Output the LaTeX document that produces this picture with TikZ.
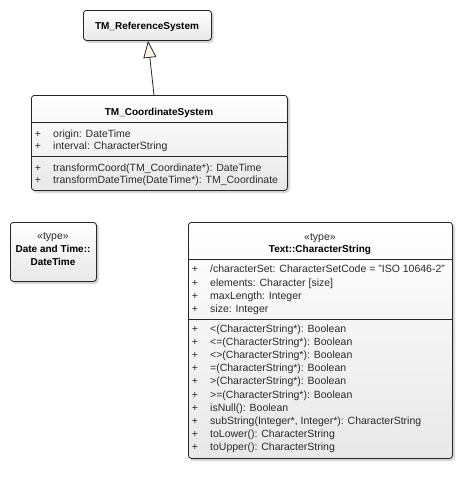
\documentclass[tikz,border=0pt]{standalone}
\usepackage{fontspec}
\setmainfont{Liberation Sans}
\usetikzlibrary{arrows.meta,calc,shadows.blur}

\definecolor{edge}{HTML}{262626}
\definecolor{txt}{HTML}{2A2A2A}
\definecolor{tipfill}{HTML}{FBF3E6}

\tikzset{
  classbox/.style={draw=edge, line width=0.8pt, rounded corners=3pt,
    top color=white, bottom color=black!9, anchor=north west, inner sep=0pt,
    blur shadow={shadow xshift=1.6pt, shadow yshift=-1.6pt,
      shadow blur radius=1.8pt, shadow blur steps=6, shadow opacity=28}},
  divider/.style={draw=edge, line width=0.8pt},
  member/.style={anchor=base west, inner sep=0pt, text=txt,
    font=\fontsize{10.5}{12}\selectfont},
  vis/.style={anchor=base, inner sep=0pt, text=txt,
    font=\fontsize{10.5}{12}\selectfont},
  title/.style={anchor=base, inner sep=0pt, text=black,
    font=\fontsize{10}{12}\selectfont\bfseries},
  stereo/.style={anchor=base, inner sep=0pt, text=txt,
    font=\fontsize{10.5}{12}\selectfont},
  general/.style={draw=edge, line width=0.8pt,
    -{Triangle[length=17pt, width=13pt, fill=tipfill]}},
}

\begin{document}
\begin{tikzpicture}[x=1pt, y=-1pt]
  \useasboundingbox (0,0) rectangle (462,488);

  % TM_ReferenceSystem
  \node[classbox, minimum width=128pt, minimum height=30pt] (ref) at (83,10) {};
  \node[title] (refname) at (147,29) {TM\_ReferenceSystem};

  % TM_CoordinateSystem
  \node[classbox, minimum width=256pt, minimum height=95pt] (cs) at (31,95) {};
  \draw[divider] (cs.west |- 0,122) -- (cs.east |- 0,122);
  \draw[divider] (cs.west |- 0,156) -- (cs.east |- 0,156);
  \node[title] (csname) at (159,115) {TM\_CoordinateSystem};
  \node[vis] (csv1) at (38,137) {+};
  \node[member] (csa1) at (53,137) {origin: DateTime};
  \node[vis] (csv2) at (38,149) {+};
  \node[member] (csa2) at (53,149) {interval: CharacterString};
  \node[vis] (csv3) at (38,171) {+};
  \node[member] (cso1) at (53,171) {transformCoord(TM\_Coordinate*): DateTime};
  \node[vis] (csv4) at (38,183) {+};
  \node[member] (cso2) at (53,183) {transformDateTime(DateTime*): TM\_Coordinate};

  % generalization
  \coordinate (genfrom) at ($(cs.north west)+(123,0)$);
  \coordinate (gento) at ($(ref.south west)+(65,0)$);
  \draw[general] (genfrom) -- (gento);

  % Date and Time::DateTime
  \node[classbox, minimum width=86pt, minimum height=59pt] (dt) at (10,222) {};
  \node[stereo] (dtst) at (53,239) {«type»};
  \node[title] (dtn1) at (53,252) {Date and Time::};
  \node[title] (dtn2) at (53,265) {DateTime};

  % Text::CharacterString
  \node[classbox, minimum width=264pt, minimum height=236pt] (chs) at (188,222) {};
  \draw[divider] (chs.west |- 0,259) -- (chs.east |- 0,259);
  \draw[divider] (chs.west |- 0,319) -- (chs.east |- 0,319);
  \node[stereo] (chst) at (320,240) {«type»};
  \node[title] (chname) at (320,252) {Text::CharacterString};

  \foreach \i/\y/\t in {
      1/272/{/characterSet: CharacterSetCode = "ISO 10646-2"},
      2/286.5/{elements: Character [size]},
      3/299.5/{maxLength: Integer},
      4/312/{size: Integer}} {
    \node[vis] (chv\i) at (195,\y) {+};
    \node[member] (cha\i) at (210,\y) {\t};
  }

  \foreach \i/\t in {
      0/{<(CharacterString*): Boolean},
      1/{<=(CharacterString*): Boolean},
      2/{<>(CharacterString*): Boolean},
      3/{=(CharacterString*): Boolean},
      4/{>(CharacterString*): Boolean},
      5/{>=(CharacterString*): Boolean},
      6/{isNull(): Boolean},
      7/{subString(Integer*, Integer*): CharacterString},
      8/{toLower(): CharacterString},
      9/{toUpper(): CharacterString}} {
    \node[vis] (chw\i) at (195,332.5+13.1*\i) {+};
    \node[member] (cho\i) at (210,332.5+13.1*\i) {\t};
  }
\end{tikzpicture}
\end{document}
